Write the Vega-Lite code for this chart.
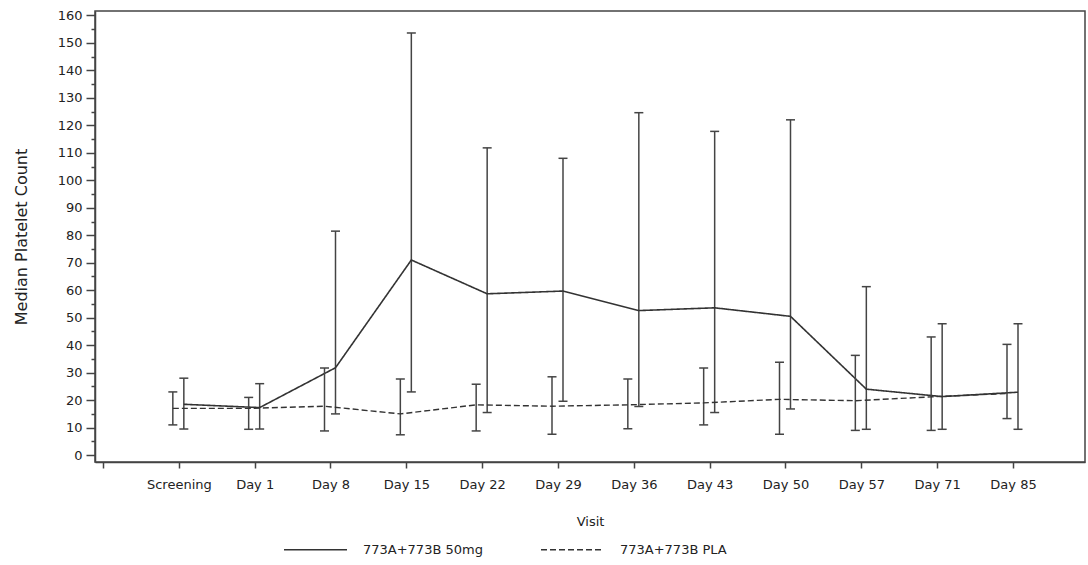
{
  "$schema": "https://vega.github.io/schema/vega-lite/v6.json",
  "width": 990,
  "height": 451,
  "autosize": {"type": "none"},
  "padding": {"left": 95, "top": 11, "right": 3, "bottom": 103},
  "background": "white",
  "data": {
    "values": [
      {"group": "773A+773B 50mg", "visit": "Screening", "median": 18.5, "low": 9.5, "high": 28},
      {"group": "773A+773B 50mg", "visit": "Day 1", "median": 17.3, "low": 9.5, "high": 26},
      {"group": "773A+773B 50mg", "visit": "Day 8", "median": 31.8, "low": 15, "high": 81.5},
      {"group": "773A+773B 50mg", "visit": "Day 15", "median": 71, "low": 23, "high": 153.6},
      {"group": "773A+773B 50mg", "visit": "Day 22", "median": 58.7, "low": 15.5, "high": 111.8},
      {"group": "773A+773B 50mg", "visit": "Day 29", "median": 59.7, "low": 19.6, "high": 108},
      {"group": "773A+773B 50mg", "visit": "Day 36", "median": 52.6, "low": 17.7, "high": 124.6},
      {"group": "773A+773B 50mg", "visit": "Day 43", "median": 53.6, "low": 15.5, "high": 117.8},
      {"group": "773A+773B 50mg", "visit": "Day 50", "median": 50.5, "low": 16.8, "high": 122},
      {"group": "773A+773B 50mg", "visit": "Day 57", "median": 24, "low": 9.4, "high": 61.3},
      {"group": "773A+773B 50mg", "visit": "Day 71", "median": 21.3, "low": 9.4, "high": 47.8},
      {"group": "773A+773B 50mg", "visit": "Day 85", "median": 22.9, "low": 9.4, "high": 47.8},
      {"group": "773A+773B PLA", "visit": "Screening", "median": 17, "low": 11, "high": 23},
      {"group": "773A+773B PLA", "visit": "Day 1", "median": 17, "low": 9.4, "high": 21},
      {"group": "773A+773B PLA", "visit": "Day 8", "median": 17.8, "low": 8.8, "high": 31.7},
      {"group": "773A+773B PLA", "visit": "Day 15", "median": 15, "low": 7.4, "high": 27.7},
      {"group": "773A+773B PLA", "visit": "Day 22", "median": 18.3, "low": 8.8, "high": 25.8},
      {"group": "773A+773B PLA", "visit": "Day 29", "median": 17.8, "low": 7.6, "high": 28.5},
      {"group": "773A+773B PLA", "visit": "Day 36", "median": 18.3, "low": 9.6, "high": 27.7},
      {"group": "773A+773B PLA", "visit": "Day 43", "median": 19, "low": 11, "high": 31.7},
      {"group": "773A+773B PLA", "visit": "Day 50", "median": 20.3, "low": 7.6, "high": 33.8},
      {"group": "773A+773B PLA", "visit": "Day 57", "median": 19.8, "low": 9, "high": 36.3},
      {"group": "773A+773B PLA", "visit": "Day 71", "median": 21.2, "low": 9, "high": 43},
      {"group": "773A+773B PLA", "visit": "Day 85", "median": 22.4, "low": 13.3, "high": 40.3}
    ]
  },
  "encoding": {
    "x": {
      "field": "visit",
      "type": "ordinal",
      "sort": null,
      "title": "Visit",
      "scale": {
        "type": "point",
        "domain": [" ", "Screening", "Day 1", "Day 8", "Day 15", "Day 22", "Day 29", "Day 36", "Day 43", "Day 50", "Day 57", "Day 71", "Day 85"],
        "padding": 0.5275,
        "align": 0.1
      },
      "axis": {
        "labelAngle": 0,
        "tickSize": 6,
        "labelPadding": 10,
        "titlePadding": 24,
        "grid": false
      }
    }
  },
  "layer": [
    {
      "transform": [{"filter": "datum.group === '773A+773B 50mg'"}],
      "layer": [
        {
          "mark": {"type": "rule", "xOffset": 5, "stroke": "#444", "strokeWidth": 1.5},
          "encoding": {
            "y": {
              "field": "low", "type": "quantitative", "title": "Median  Platelet  Count",
              "scale": {"domain": [-2.5, 161.6], "nice": false, "zero": false},
              "axis": {
                "values": [0, 5, 10, 15, 20, 25, 30, 35, 40, 45, 50, 55, 60, 65, 70, 75, 80, 85, 90, 95, 100, 105, 110, 115, 120, 125, 130, 135, 140, 145, 150, 155, 160],
                "labelExpr": "datum.value % 10 === 0 ? datum.label : ''",
                "labelOverlap": false,
                "labelFlush": false,
                "tickSize": {"condition": {"test": "datum.value % 10 === 0", "value": 9}, "value": 4},
                "labelPadding": 4,
                "titlePadding": 28,
                "titleFontSize": 16,
                "grid": false
              }
            },
            "y2": {"field": "high"}
          }
        },
        {
          "mark": {"type": "tick", "xOffset": 5, "color": "#444", "size": 9, "thickness": 1.5, "opacity": 1},
          "encoding": {"y": {
            "field": "low", "type": "quantitative", "title": "Median  Platelet  Count",
            "scale": {"domain": [-2.5, 161.6], "nice": false, "zero": false},
            "axis": {
              "values": [0, 5, 10, 15, 20, 25, 30, 35, 40, 45, 50, 55, 60, 65, 70, 75, 80, 85, 90, 95, 100, 105, 110, 115, 120, 125, 130, 135, 140, 145, 150, 155, 160],
              "labelExpr": "datum.value % 10 === 0 ? datum.label : ''",
              "labelOverlap": false,
              "labelFlush": false,
              "tickSize": {"condition": {"test": "datum.value % 10 === 0", "value": 9}, "value": 4},
              "labelPadding": 4,
              "titlePadding": 28,
              "titleFontSize": 16,
              "grid": false
            }
          }}
        },
        {
          "mark": {"type": "tick", "xOffset": 5, "color": "#444", "size": 9, "thickness": 1.5, "opacity": 1},
          "encoding": {"y": {
            "field": "high", "type": "quantitative", "title": "Median  Platelet  Count",
            "scale": {"domain": [-2.5, 161.6], "nice": false, "zero": false},
            "axis": {
              "values": [0, 5, 10, 15, 20, 25, 30, 35, 40, 45, 50, 55, 60, 65, 70, 75, 80, 85, 90, 95, 100, 105, 110, 115, 120, 125, 130, 135, 140, 145, 150, 155, 160],
              "labelExpr": "datum.value % 10 === 0 ? datum.label : ''",
              "labelOverlap": false,
              "labelFlush": false,
              "tickSize": {"condition": {"test": "datum.value % 10 === 0", "value": 9}, "value": 4},
              "labelPadding": 4,
              "titlePadding": 28,
              "titleFontSize": 16,
              "grid": false
            }
          }}
        },
        {
          "mark": {"type": "line", "xOffset": 5, "color": "#333", "strokeWidth": 1.6},
          "encoding": {
            "y": {
              "field": "median", "type": "quantitative", "title": "Median  Platelet  Count",
              "scale": {"domain": [-2.5, 161.6], "nice": false, "zero": false},
              "axis": {
                "values": [0, 5, 10, 15, 20, 25, 30, 35, 40, 45, 50, 55, 60, 65, 70, 75, 80, 85, 90, 95, 100, 105, 110, 115, 120, 125, 130, 135, 140, 145, 150, 155, 160],
                "labelExpr": "datum.value % 10 === 0 ? datum.label : ''",
                "labelOverlap": false,
                "labelFlush": false,
                "tickSize": {"condition": {"test": "datum.value % 10 === 0", "value": 9}, "value": 4},
                "labelPadding": 4,
                "titlePadding": 28,
                "titleFontSize": 16,
                "grid": false
              }
            },
            "strokeDash": {
              "field": "group", "type": "nominal",
              "scale": {"domain": ["773A+773B 50mg", "773A+773B PLA"], "range": [[1, 0], [6, 3]]},
              "legend": {
                "title": null,
                "orient": "none",
                "direction": "horizontal",
                "legendX": 188,
                "legendY": 506,
                "symbolType": "stroke",
                "symbolSize": 3969,
                "symbolStrokeWidth": 1.5,
                "symbolStrokeColor": "#333",
                "labelOffset": 15,
                "columnPadding": 50,
                "labelFontSize": 13,
                "labelColor": "#222",
                "labelFont": "DejaVu Sans",
                "labelExpr": "replace(datum.label, 'B ', 'B  ')"
              }
            }
          }
        }
      ]
    },
    {
      "transform": [{"filter": "datum.group === '773A+773B PLA'"}],
      "layer": [
        {
          "mark": {"type": "rule", "xOffset": -6, "stroke": "#444", "strokeWidth": 1.5},
          "encoding": {
            "y": {
              "field": "low", "type": "quantitative", "title": "Median  Platelet  Count",
              "scale": {"domain": [-2.5, 161.6], "nice": false, "zero": false},
              "axis": {
                "values": [0, 5, 10, 15, 20, 25, 30, 35, 40, 45, 50, 55, 60, 65, 70, 75, 80, 85, 90, 95, 100, 105, 110, 115, 120, 125, 130, 135, 140, 145, 150, 155, 160],
                "labelExpr": "datum.value % 10 === 0 ? datum.label : ''",
                "labelOverlap": false,
                "labelFlush": false,
                "tickSize": {"condition": {"test": "datum.value % 10 === 0", "value": 9}, "value": 4},
                "labelPadding": 4,
                "titlePadding": 28,
                "titleFontSize": 16,
                "grid": false
              }
            },
            "y2": {"field": "high"}
          }
        },
        {
          "mark": {"type": "tick", "xOffset": -6, "color": "#444", "size": 9, "thickness": 1.5, "opacity": 1},
          "encoding": {"y": {
            "field": "low", "type": "quantitative", "title": "Median  Platelet  Count",
            "scale": {"domain": [-2.5, 161.6], "nice": false, "zero": false},
            "axis": {
              "values": [0, 5, 10, 15, 20, 25, 30, 35, 40, 45, 50, 55, 60, 65, 70, 75, 80, 85, 90, 95, 100, 105, 110, 115, 120, 125, 130, 135, 140, 145, 150, 155, 160],
              "labelExpr": "datum.value % 10 === 0 ? datum.label : ''",
              "labelOverlap": false,
              "labelFlush": false,
              "tickSize": {"condition": {"test": "datum.value % 10 === 0", "value": 9}, "value": 4},
              "labelPadding": 4,
              "titlePadding": 28,
              "titleFontSize": 16,
              "grid": false
            }
          }}
        },
        {
          "mark": {"type": "tick", "xOffset": -6, "color": "#444", "size": 9, "thickness": 1.5, "opacity": 1},
          "encoding": {"y": {
            "field": "high", "type": "quantitative", "title": "Median  Platelet  Count",
            "scale": {"domain": [-2.5, 161.6], "nice": false, "zero": false},
            "axis": {
              "values": [0, 5, 10, 15, 20, 25, 30, 35, 40, 45, 50, 55, 60, 65, 70, 75, 80, 85, 90, 95, 100, 105, 110, 115, 120, 125, 130, 135, 140, 145, 150, 155, 160],
              "labelExpr": "datum.value % 10 === 0 ? datum.label : ''",
              "labelOverlap": false,
              "labelFlush": false,
              "tickSize": {"condition": {"test": "datum.value % 10 === 0", "value": 9}, "value": 4},
              "labelPadding": 4,
              "titlePadding": 28,
              "titleFontSize": 16,
              "grid": false
            }
          }}
        },
        {
          "mark": {"type": "line", "xOffset": -6, "color": "#333", "strokeWidth": 1.4},
          "encoding": {
            "y": {
              "field": "median", "type": "quantitative", "title": "Median  Platelet  Count",
              "scale": {"domain": [-2.5, 161.6], "nice": false, "zero": false},
              "axis": {
                "values": [0, 5, 10, 15, 20, 25, 30, 35, 40, 45, 50, 55, 60, 65, 70, 75, 80, 85, 90, 95, 100, 105, 110, 115, 120, 125, 130, 135, 140, 145, 150, 155, 160],
                "labelExpr": "datum.value % 10 === 0 ? datum.label : ''",
                "labelOverlap": false,
                "labelFlush": false,
                "tickSize": {"condition": {"test": "datum.value % 10 === 0", "value": 9}, "value": 4},
                "labelPadding": 4,
                "titlePadding": 28,
                "titleFontSize": 16,
                "grid": false
              }
            },
            "strokeDash": {"field": "group", "type": "nominal"}
          }
        }
      ]
    }
  ],
  "config": {
    "font": "DejaVu Sans",
    "view": {"stroke": "#444", "strokeWidth": 1.5},
    "axis": {
      "domainColor": "#444",
      "domainWidth": 1.5,
      "tickColor": "#444",
      "tickWidth": 1.5,
      "labelFont": "DejaVu Sans",
      "labelFontSize": 13,
      "labelColor": "#222",
      "titleFont": "DejaVu Sans",
      "titleFontSize": 13,
      "titleFontWeight": "normal",
      "titleColor": "#222"
    }
  }
}
